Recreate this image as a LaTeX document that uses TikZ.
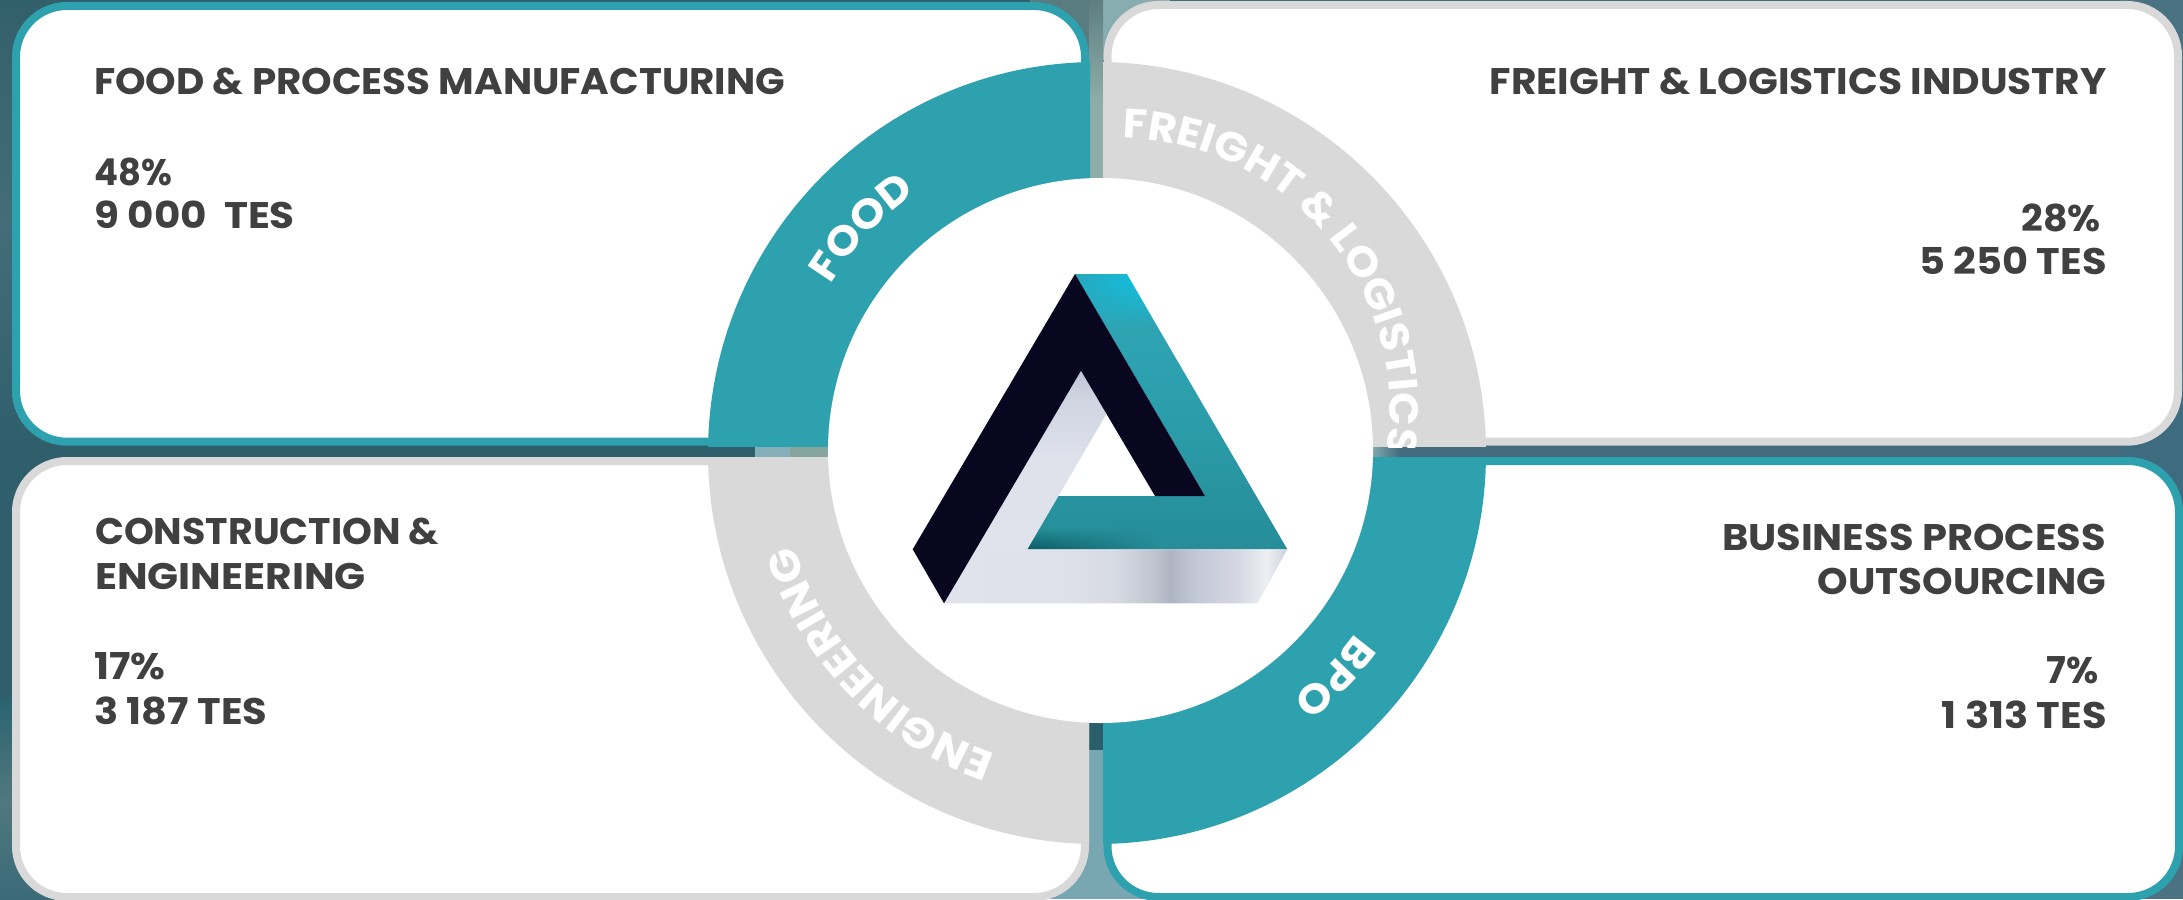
\documentclass[tikz,border=0pt]{standalone}
\usepackage{fontspec}
\usetikzlibrary{decorations.text,fadings}
\newfontfamily\mont[FakeStretch=1.08]{Poppins}
\newfontfamily\montarc[FakeStretch=1.08]{Poppins}
\newcommand{\hsq}[2]{\scalebox{#1}[1]{#2}}
\definecolor{tealc}{HTML}{2EA1AE}
\definecolor{greyc}{HTML}{D9D9D9}
\definecolor{textc}{HTML}{404040}
\definecolor{navyc}{HTML}{090720}
\pgfdeclareverticalshading{tealgrad}{100bp}{
 rgb(0bp)=(0.15,0.55,0.60);
 rgb(25bp)=(0.15,0.55,0.60);
 rgb(50bp)=(0.17,0.62,0.67);
 rgb(65bp)=(0.18,0.64,0.70);
 rgb(71bp)=(0.15,0.68,0.76);
 rgb(75bp)=(0.06,0.76,0.90);
 rgb(100bp)=(0.06,0.76,0.90)}
\pgfdeclarehorizontalshading{silverband}{100bp}{
 rgb(0bp)=(0.88,0.89,0.925);
 rgb(25bp)=(0.88,0.89,0.925);
 rgb(42bp)=(0.875,0.885,0.92);
 rgb(50bp)=(0.84,0.855,0.89);
 rgb(55bp)=(0.76,0.78,0.82);
 rgb(58bp)=(0.69,0.71,0.765);
 rgb(62bp)=(0.77,0.79,0.85);
 rgb(68bp)=(0.84,0.85,0.89);
 rgb(72bp)=(0.93,0.94,0.955);
 rgb(75bp)=(0.80,0.82,0.86);
 rgb(100bp)=(0.80,0.82,0.86)}
\pgfdeclareverticalshading{silverdiag}{100bp}{
 rgb(0bp)=(0.88,0.89,0.925);
 rgb(25bp)=(0.88,0.89,0.925);
 rgb(50bp)=(0.875,0.885,0.92);
 rgb(68bp)=(0.81,0.83,0.88);
 rgb(75bp)=(0.75,0.77,0.84);
 rgb(100bp)=(0.75,0.77,0.84)}
\tikzset{
 x=1pt,y=-1pt,
 cardbox/.style={line width=8pt,fill=white,rounded corners=51pt},
 titletext/.style={font=\mont\bfseries\fontsize{37}{44}\selectfont,text=textc,inner sep=0pt},
 arctext/.style 2 args={decorate,decoration={text along path,text align=center,
   text={|\montarc\bfseries\fontsize{#1}{48}\selectfont\color{white}|#2}}}
}
\begin{document}
\begin{tikzpicture}
\useasboundingbox (0,0) rectangle (2183,899);
\clip (0,0) rectangle (2183,899);
\coordinate (center) at (1100.5,450.5);
\coordinate (freightcentre) at (1118,410);
% background
\fill[color={rgb,255:red,47;green,95;blue,107}] (0,0) rectangle (2183,899);
\shade[top color={rgb,255:red,50;green,96;blue,106},bottom color={rgb,255:red,47;green,95;blue,107},middle color={rgb,255:red,68;green,108;blue,122}] (0,0) rectangle (60,446);
\shade[top color={rgb,255:red,43;green,100;blue,113},bottom color={rgb,255:red,59;green,106;blue,120},middle color={rgb,255:red,80;green,120;blue,125}] (0,700) rectangle (60,899);
\fill[color={rgb,255:red,68;green,107;blue,126}] (1372,446) rectangle (2183,457);
\fill[color={rgb,255:red,62;green,107;blue,128}] (2120,370) rectangle (2183,530);
\fill[color={rgb,255:red,74;green,114;blue,130}] (2120,0) rectangle (2183,60);
\fill[color={rgb,255:red,74;green,114;blue,130}] (2120,840) rectangle (2183,899);
\shade[left color={rgb,255:red,127;green,169;blue,174},right color={rgb,255:red,68;green,107;blue,126}] (1372,446) rectangle (1400,457);
\fill[color={rgb,255:red,133;green,176;blue,186}] (755,446) rectangle (790,457);
\fill[color={rgb,255:red,134;green,165;blue,156}] (790,446) rectangle (830,457);
\fill[color={rgb,255:red,88;green,124;blue,127}] (1030,0) rectangle (1096,60);
\fill[color={rgb,255:red,136;green,173;blue,176}] (1096,0) rectangle (1170,60);
\shade[top color={rgb,255:red,93;green,127;blue,130},bottom color={rgb,255:red,142;green,172;blue,168}] (1089,0) rectangle (1103,100);
\fill[color={rgb,255:red,142;green,172;blue,168}] (1089,100) rectangle (1103,180);
\fill[color={rgb,255:red,120;green,166;blue,177}] (1030,740) rectangle (1170,899);
\fill[color={rgb,255:red,42;green,95;blue,106}] (1089,715) rectangle (1103,750);
% cards
\draw[cardbox,draw=tealc] (16,6) rectangle (1085,441.7);
\draw[cardbox,draw=greyc] (1107.5,5) rectangle (2178,441.7);
\draw[cardbox,draw=greyc] (16,461) rectangle (1085,897);
\draw[cardbox,draw=tealc] (1107.5,461) rectangle (2179,897);
% bands
\begin{scope}
 \clip (0,0) rectangle (1090,446);
 \fill[tealc] (1097,453) ellipse [x radius=389,y radius=391];
\end{scope}
\begin{scope}
 \clip (1103,0) rectangle (2183,446);
 \fill[greyc] (1097,453) ellipse [x radius=389,y radius=391];
\end{scope}
\begin{scope}
 \clip (0,457) rectangle (1089,899);
 \fill[greyc] (1097,453) ellipse [x radius=389,y radius=391];
\end{scope}
\begin{scope}
 \clip (1103,457) rectangle (2183,899);
 \fill[tealc] (1097,453) ellipse [x radius=389,y radius=391];
\end{scope}
\fill[white] (center) circle [radius=272.5];
% arc labels
\path[arctext={41}{FOOD}] (center) ++(-167:317) arc [start angle=-167,end angle=-107,radius=317];
\begin{scope}
 \clip (1103,0) rectangle (2183,447);
 \path[arctext={41}{FREIGHT {\&} LOGISTICS}] (freightcentre) ++(-112:272) arc [start angle=-112,end angle=32,radius=272];
\end{scope}
\path[arctext={41}{BPO}] (center) ++(14:314) arc [start angle=14,end angle=74,radius=314];
\path[arctext={42}{ENGINEERING}] (center) ++(96:321) arc [start angle=96,end angle=176,radius=321];
% impossible triangle
\shade[shading=tealgrad] (1075,274) -- (1126.7,274) -- (1287.3,549.3) -- (1027.3,549.3) -- (1057.7,496) -- (1205,496) -- cycle;
\shade[left color={rgb,255:red,42;green,166;blue,184},right color={rgb,255:red,12;green,194;blue,230},path fading=south] (1075,274) -- (1126.7,274) -- (1155,322) -- (1103,322) -- cycle;
\shade[top color={rgb,255:red,38;green,146;blue,155},bottom color={rgb,255:red,13;green,90;blue,98},path fading=east] (1038.5,527) -- (1160,527) -- (1160,549.3) -- (1027.3,549.3) -- cycle;
\shade[shading=silverdiag] (1081,370.7) -- (1106.7,413.3) -- (1027.3,549.3) -- (1027.3,550) -- (975.3,550) -- cycle;
\shade[shading=silverband] (975.8,549.3) -- (1287.3,549.3) -- (1257.3,603.3) -- (944,603.3) -- cycle;
\fill[navyc] (912.7,549.3) -- (1075,274) -- (1205,496) -- (1155,496) -- (1081,370.7) -- (944,603.3) -- cycle;
% texts
\node[titletext,anchor=base west] (t1) at (94,94.5) {\hsq{0.972}{FOOD \& PROCESS MANUFACTURING}};
\node[titletext,anchor=base west] (t1a) at (94,185) {\hsq{0.887}{48\%}};
\node[titletext,anchor=base west] (t1b) at (94,228) {\hsq{1.014}{9 000~~TES}};
\node[titletext,anchor=base east] (t2) at (2107,94.5) {\hsq{0.98}{FREIGHT \& LOGISTICS INDUSTRY}};
\node[titletext,anchor=base east] (t2a) at (2101,231) {\hsq{0.95}{28\%}};
\node[titletext,anchor=base east] (t2b) at (2107,274) {5 250 TES};
\node[titletext,anchor=base west] (t3) at (95,544) {\hsq{0.95}{CONSTRUCTION \&}};
\node[titletext,anchor=base west] (t3x) at (95,589) {\hsq{1.02}{ENGINEERING}};
\node[titletext,anchor=base west] (t3a) at (94,679) {17\%};
\node[titletext,anchor=base west] (t3b) at (94,724) {3 187 TES};
\node[titletext,anchor=base east] (t4) at (2106,550) {BUSINESS PROCESS};
\node[titletext,anchor=base east] (t4x) at (2106,594) {\hsq{0.972}{OUTSOURCING}};
\node[titletext,anchor=base east] (t4a) at (2099,683) {\hsq{0.925}{7\%}};
\node[titletext,anchor=base east] (t4b) at (2107,728) {1 313 TES};
\end{tikzpicture}
\end{document}
